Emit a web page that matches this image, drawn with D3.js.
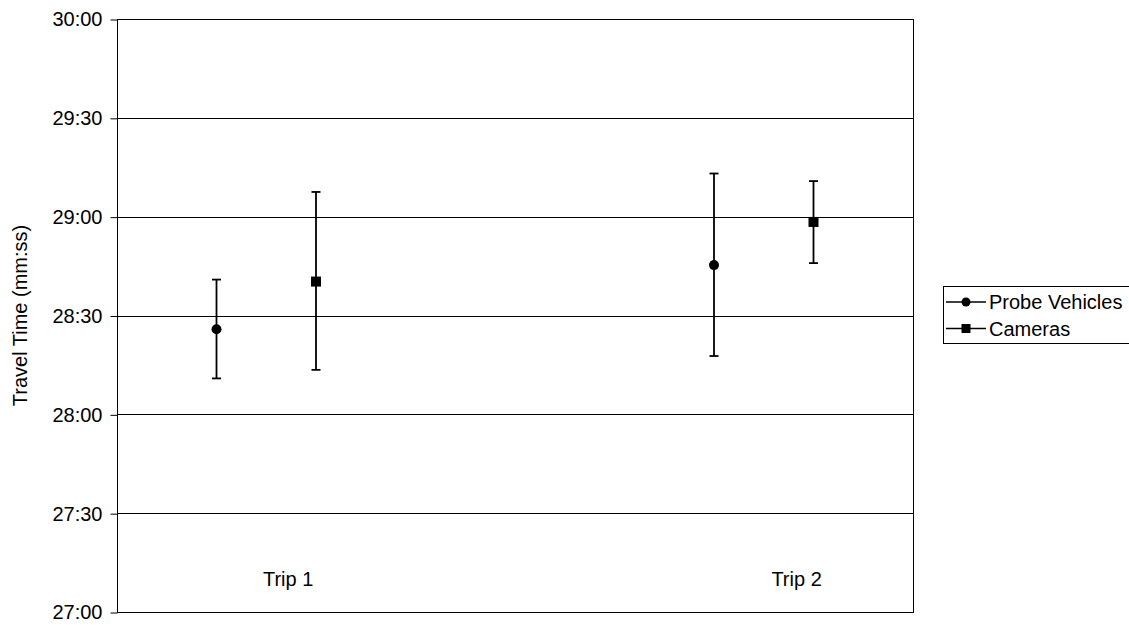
<!DOCTYPE html>
<html>
<head>
<meta charset="utf-8">
<script src="https://cdn.jsdelivr.net/npm/d3@7"></script>
<style>
  html, body { margin: 0; padding: 0; background: #fff; }
  svg { display: block; }
  text { font-family: "Liberation Sans", Arial, sans-serif; fill: #000; }
</style>
</head>
<body>
<svg id="chart" width="1129" height="625"></svg>
<script>
// ---- data (seconds) ----
const trips = ["Trip 1", "Trip 2"];
const tripLabelX = [1.72, 6.83];
const probeX = [1, 6];
const probeMean = [1705.8, 1725.3];
const probeLow = [1690.9, 1697.7];
const probeHigh = [1720.9, 1753.1];
const cameraX = [2, 7];
const cameraMean = [1720.3, 1738.4];
const cameraLow = [1693.5, 1725.9];
const cameraHigh = [1747.5, 1750.8];
const yTicks = [1620, 1650, 1680, 1710, 1740, 1770, 1800];
const seriesNames = ["Probe Vehicles", "Cameras"];
const yTitle = "Travel Time (mm:ss)";

// ---- layout ----
const L = 117, R = 913, T = 19, B = 612;
const FS = 20;
const svg = d3.select("#chart");
const x = d3.scaleLinear().domain([0, 8]).range([L, R]);
const y = d3.scaleLinear().domain([1620, 1800]).range([B, T]);
const fmt = s => { const m = Math.floor(s / 60), ss = Math.round(s - m * 60); return m + ":" + String(ss).padStart(2, "0"); };

// gridlines
svg.append("g").selectAll("line").data(yTicks.slice(1, -1)).join("line")
  .attr("x1", L).attr("x2", R)
  .attr("y1", d => Math.round(y(d)) + 0.5).attr("y2", d => Math.round(y(d)) + 0.5)
  .attr("stroke", "#000").attr("stroke-width", 1);

// plot border
svg.append("rect").attr("x", L + 0.5).attr("y", T + 0.5)
  .attr("width", R - L).attr("height", B - T)
  .attr("fill", "none").attr("stroke", "#000").attr("stroke-width", 1);

// y axis
const yAxis = d3.axisLeft(y).tickValues(yTicks).tickFormat(fmt).tickSize(7).tickPadding(8);
const ga = svg.append("g").attr("transform", `translate(${L + 0.5},0.5)`).call(yAxis);
ga.select(".domain").remove();
ga.selectAll(".tick line").attr("stroke", "#000");
ga.selectAll(".tick text").attr("font-size", FS).attr("font-family", "Liberation Sans, Arial, sans-serif").attr("fill", "#000");

// y title
svg.append("text").attr("transform", `translate(27,${(T + B) / 2}) rotate(-90)`)
  .attr("text-anchor", "middle").attr("font-size", FS).text(yTitle);

// trip labels
svg.append("g").selectAll("text").data(trips).join("text")
  .attr("x", (d, i) => x(tripLabelX[i])).attr("y", y(1630) + 7)
  .attr("text-anchor", "middle").attr("font-size", FS).text(d => d);

// error bars + markers
function drawSeries(xs, mean, lo, hi, shape) {
  const g = svg.append("g");
  const idx = d3.range(xs.length);
  g.selectAll("line.v").data(idx).join("line").attr("class", "v")
    .attr("x1", i => x(xs[i])).attr("x2", i => x(xs[i]))
    .attr("y1", i => y(lo[i])).attr("y2", i => y(hi[i]))
    .attr("stroke", "#000").attr("stroke-width", 1.8);
  [lo, hi].forEach(arr => {
    g.append("g").selectAll("line").data(idx).join("line")
      .attr("x1", i => x(xs[i]) - 4.5).attr("x2", i => x(xs[i]) + 4.5)
      .attr("y1", i => y(arr[i])).attr("y2", i => y(arr[i]))
      .attr("stroke", "#000").attr("stroke-width", 1.8);
  });
  if (shape === "circle") {
    g.selectAll("circle").data(idx).join("circle")
      .attr("cx", i => x(xs[i])).attr("cy", i => y(mean[i])).attr("r", 5).attr("fill", "#000");
  } else {
    g.selectAll("rect").data(idx).join("rect")
      .attr("x", i => x(xs[i]) - 5).attr("y", i => y(mean[i]) - 5)
      .attr("width", 10).attr("height", 10).attr("fill", "#000");
  }
}
drawSeries(probeX, probeMean, probeLow, probeHigh, "circle");
drawSeries(cameraX, cameraMean, cameraLow, cameraHigh, "square");

// legend
const lg = svg.append("g");
lg.append("rect").attr("x", 943.5).attr("y", 286.5).attr("width", 190).attr("height", 57)
  .attr("fill", "#fff").attr("stroke", "#000").attr("stroke-width", 1);
seriesNames.forEach((name, i) => {
  const cy = 302 + i * 26.5;
  lg.append("line").attr("x1", 946).attr("x2", 986).attr("y1", cy).attr("y2", cy)
    .attr("stroke", "#000").attr("stroke-width", 1.5);
  if (i === 0) lg.append("circle").attr("cx", 966).attr("cy", cy).attr("r", 4.5).attr("fill", "#000");
  else lg.append("rect").attr("x", 961.5).attr("y", cy - 4.5).attr("width", 9).attr("height", 9).attr("fill", "#000");
  lg.append("text").attr("x", 989).attr("y", cy + 7).attr("font-size", FS).text(name);
});
</script>
</body>
</html>
